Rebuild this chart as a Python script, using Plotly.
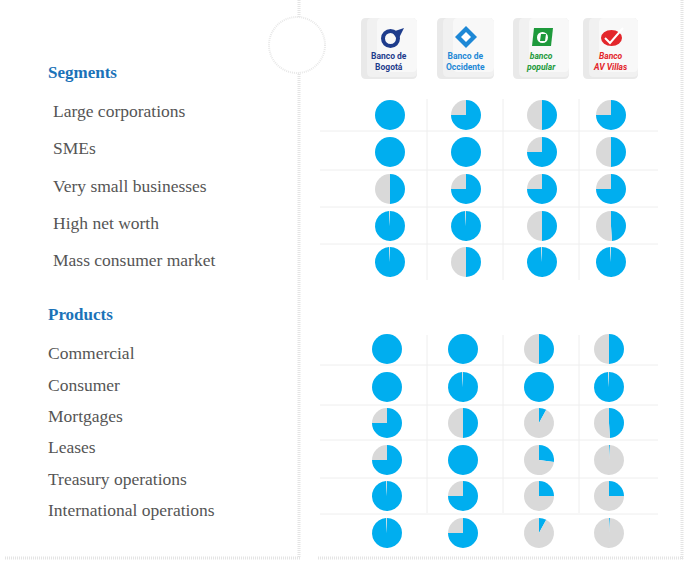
import plotly.graph_objects as go

W, H = 687, 567

banks = ["Banco de Bogotá", "Banco de Occidente", "banco popular", "Banco AV Villas"]
segments = ["Large corporations", "SMEs", "Very small businesses", "High net worth", "Mass consumer market"]
products = ["Commercial", "Consumer", "Mortgages", "Leases", "Treasury operations", "International operations"]

# share of each pie drawn in blue (percent), rows = segments/products, cols = banks
segment_values = [
    [100, 75, 50, 75],
    [100, 100, 75, 50],
    [50, 75, 75, 75],
    [99, 99, 50, 49],
    [99, 50, 99, 99],
]
product_values = [
    [100, 100, 50, 50],
    [100, 99, 100, 99],
    [75, 50, 8, 49],
    [75, 100, 27, 1],
    [99, 75, 25, 25],
    [99, 75, 8, 1],
]

BLUE = "#00AEEF"
GRAY = "#D9D9D9"
HEAD = "#1B72B8"
TXT = "#555555"
GRID = "#EEEEEE"

# layout grid (pixels)
seg_cols = [390, 466, 542, 611]
seg_rows = [115, 152, 189, 226, 262]
prod_cols = [387, 463, 539, 609]
prod_rows = [349, 387, 423, 460, 496, 533]
R = 15

fig = go.Figure()


def add_pie(cx, cy, v):
    fig.add_trace(go.Pie(
        values=[v, 100 - v],
        marker=dict(colors=[BLUE, GRAY], line=dict(width=0)),
        sort=False, direction="clockwise", rotation=0,
        textinfo="none", hoverinfo="skip", showlegend=False,
        domain=dict(x=[(cx - R) / W, (cx + R) / W], y=[1 - (cy + R) / H, 1 - (cy - R) / H]),
    ))


for i, row in enumerate(segment_values):
    for j, v in enumerate(row):
        add_pie(seg_cols[j], seg_rows[i], v)
for i, row in enumerate(product_values):
    for j, v in enumerate(row):
        add_pie(prod_cols[j], prod_rows[i], v)

shapes = []
# panel shadows
SH = "#E4E4E4"
SD = "1px,1px"
shapes += [
    dict(type="line", x0=299, x1=299, y0=0, y1=558, line=dict(color=SH, width=3, dash=SD)),
    dict(type="line", x0=5, x1=300, y0=558, y1=558, line=dict(color=SH, width=3, dash=SD)),
    dict(type="line", x0=682, x1=682, y0=0, y1=560, line=dict(color=SH, width=3, dash=SD)),
    dict(type="line", x0=318, x1=683, y0=558, y1=558, line=dict(color=SH, width=3, dash=SD)),
]
# circle badge
shapes.append(dict(type="circle", x0=297 - 28, x1=297 + 28, y0=45 - 28, y1=45 + 28,
                   fillcolor="white", line=dict(color="#E8E8E8", width=2, dash=SD)))
# grid lines (segments)
for y in [131, 170, 207, 244]:
    shapes.append(dict(type="line", x0=320, x1=658, y0=y, y1=y, line=dict(color=GRID, width=1)))
for x in [427, 503, 579]:
    shapes.append(dict(type="line", x0=x, x1=x, y0=99, y1=280, line=dict(color=GRID, width=1)))
# grid lines (products)
for y in [365, 405, 440, 478, 514]:
    shapes.append(dict(type="line", x0=320, x1=658, y0=y, y1=y, line=dict(color=GRID, width=1)))
for x in [427, 503, 579]:
    shapes.append(dict(type="line", x0=x, x1=x, y0=335, y1=513, line=dict(color=GRID, width=1)))


def rrect(x0, y0, x1, y1, r):
    return (f"M{x0+r},{y0} L{x1-r},{y0} Q{x1},{y0} {x1},{y0+r} L{x1},{y1-r} Q{x1},{y1} {x1-r},{y1} "
            f"L{x0+r},{y1} Q{x0},{y1} {x0},{y1-r} L{x0},{y0+r} Q{x0},{y0} {x0+r},{y0} Z")


logo_boxes = [(361, 417), (437, 494), (513, 569), (583, 638)]
for (a, b) in logo_boxes:
    shapes.append(dict(type="path", path=rrect(a, 18, b, 79, 5), fillcolor="#E9E9E9", line=dict(width=0)))
    shapes.append(dict(type="path", path=rrect(a + 6, 18, b, 77, 5), fillcolor="#F1F1F1", line=dict(width=0)))
    shapes.append(dict(type="path", path=rrect(a + 16, 18, b, 72, 5), fillcolor="#F8F8F8", line=dict(width=0)))

# logo icons
# Bogotá: navy swirl
shapes.append(dict(type="circle", x0=383, x1=398, y0=31, y1=46, line=dict(color="#1E3C8C", width=4)))
shapes.append(dict(type="path", path="M392,32 L404,28 L398,40 Z", fillcolor="#1E3C8C", line=dict(width=0)))
# Occidente: diamond
shapes.append(dict(type="path", path="M466,26 L477,37 L466,48 L455,37 Z", fillcolor="#1E88D6", line=dict(width=0)))
shapes.append(dict(type="path", path="M466,32 L471,37 L466,42 L461,37 Z", fillcolor="white", line=dict(width=0)))
# Popular: green square
shapes.append(dict(type="path", path="M534,28 L553,28 L551,46 L532,46 Z", fillcolor="#1E9A3C", line=dict(width=0)))
shapes.append(dict(type="circle", x0=537, x1=548, y0=32, y1=43, fillcolor="white", line=dict(width=0)))
shapes.append(dict(type="path", path="M541,34 L546,34 L545,41 L540,41 Z", fillcolor="#1E9A3C", line=dict(width=0)))
# AV Villas: red badge
shapes.append(dict(type="circle", x0=601, x1=622, y0=30, y1=46, fillcolor="#E3262B", line=dict(width=0)))
shapes.append(dict(type="path", path="M605,38 L610,43 L623,28", line=dict(color="white", width=2)))

ann = []
def text(x, y, s, size=17.5, color=TXT, bold=False, family="Liberation Serif", xanchor="left"):
    if bold:
        s = f"<b>{s}</b>"
    ann.append(dict(x=x, y=y, xref="x", yref="y", text=s, showarrow=False, xanchor=xanchor,
                    yanchor="middle", xshift=-2, font=dict(family=family, size=size, color=color)))


text(48, 72, "Segments", bold=True, color=HEAD, size=17)
for k, s in enumerate(segments):
    text(53, [111, 148, 186, 223, 260][k], s)
text(48, 314, "Products", bold=True, color=HEAD, size=17)
for k, s in enumerate(products):
    text(48, [353, 385, 416, 447, 479, 510][k], s)

logo_text = [("Banco de<br>Bogotá", "#1E3C8C", False), ("Banco de<br>Occidente", "#1E88D6", False),
             ("banco<br>popular", "#1E9A3C", True), ("Banco<br>AV Villas", "#E3262B", True)]
for (a, b), (s, c, it), name in zip(logo_boxes, logo_text, banks):
    s = f"<b>{s}</b>"
    if it:
        s = f"<i>{s}</i>"
    ann.append(dict(x=(a + b) / 2, y=61, xref="x", yref="y", text=s,
                    showarrow=False, xanchor="center", yanchor="middle",
                    font=dict(family="Roboto", size=8.5, color=c)))

fig.update_layout(
    width=W, height=H, margin=dict(l=0, r=0, t=0, b=0),
    paper_bgcolor="white", plot_bgcolor="white",
    xaxis=dict(range=[0, W], visible=False, fixedrange=True),
    yaxis=dict(range=[H, 0], visible=False, fixedrange=True),
    shapes=shapes, annotations=ann,
)
fig.write_html("out.html", config={"displayModeBar": False}, post_script="document.body.style.margin='0';")
